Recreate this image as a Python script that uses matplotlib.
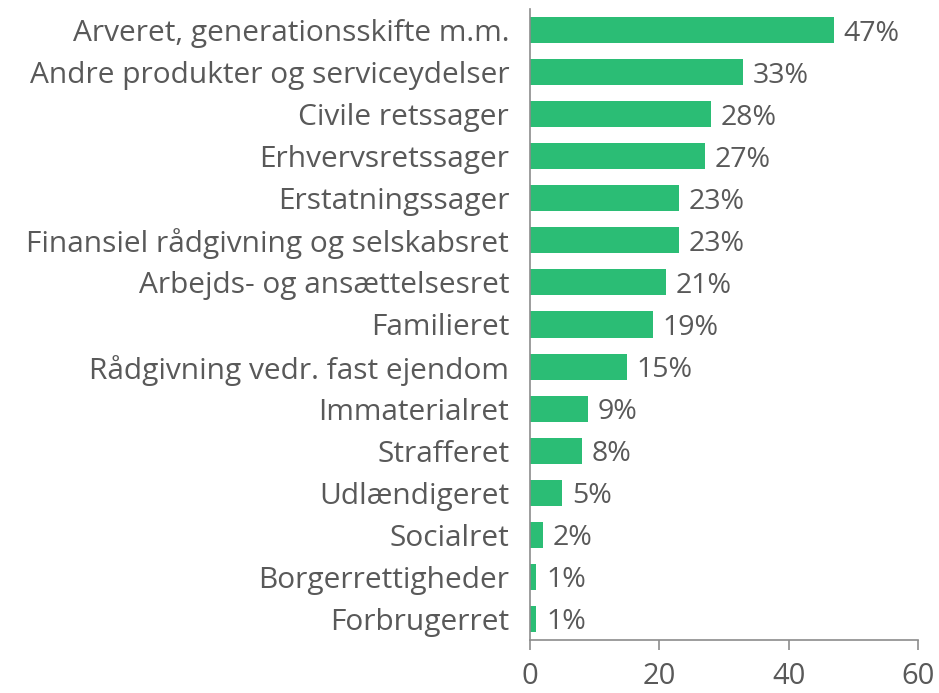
import numpy as np
import matplotlib
matplotlib.use('Agg')
import matplotlib.pyplot as plt

plt.rcParams['font.family'] = ['Open Sans', 'DejaVu Sans']

# Data (top to bottom as shown)
categories = [
    'Arveret, generationsskifte m.m.',
    'Andre produkter og serviceydelser',
    'Civile retssager',
    'Erhvervsretssager',
    'Erstatningssager',
    'Finansiel rådgivning og selskabsret',
    'Arbejds- og ansættelsesret',
    'Familieret',
    'Rådgivning vedr. fast ejendom',
    'Immaterialret',
    'Strafferet',
    'Udlændigeret',
    'Socialret',
    'Borgerrettigheder',
    'Forbrugerret',
]
values = [47, 33, 28, 27, 23, 23, 21, 19, 15, 9, 8, 5, 2, 1, 1]
xticks = [0, 20, 40, 60]

bar_color = '#2BBD75'
text_color = '#595959'
axis_color = '#8C8C8C'

fig = plt.figure(figsize=(9.39, 6.93), dpi=100)
ax = fig.add_axes([0.5644, 0.0765, 0.4132, 0.9105])

y = np.arange(len(categories))
ax.barh(y, values, height=0.62, color=bar_color)

# value labels
for yi, v in zip(y, values):
    ax.text(v + 1.5, yi, f'{v}%', va='center_baseline', ha='left',
            fontsize=20.5, color=text_color)

ax.set_yticks(y)
ax.set_yticklabels(categories, fontsize=21.5, color=text_color)
ax.set_ylim(len(categories) - 0.5, -0.5)
ax.set_xlim(0, 60)
ax.set_xticks(xticks)
ax.set_xticklabels([str(t) for t in xticks], fontsize=21, color=text_color)

ax.tick_params(axis='y', length=0, pad=15)
ax.tick_params(axis='x', length=7, width=1.2, color=axis_color, pad=9)

for side in ['top', 'right']:
    ax.spines[side].set_visible(False)
for side in ['left', 'bottom']:
    ax.spines[side].set_color(axis_color)
    ax.spines[side].set_linewidth(1.2)

plt.savefig('out.png', dpi=100)
